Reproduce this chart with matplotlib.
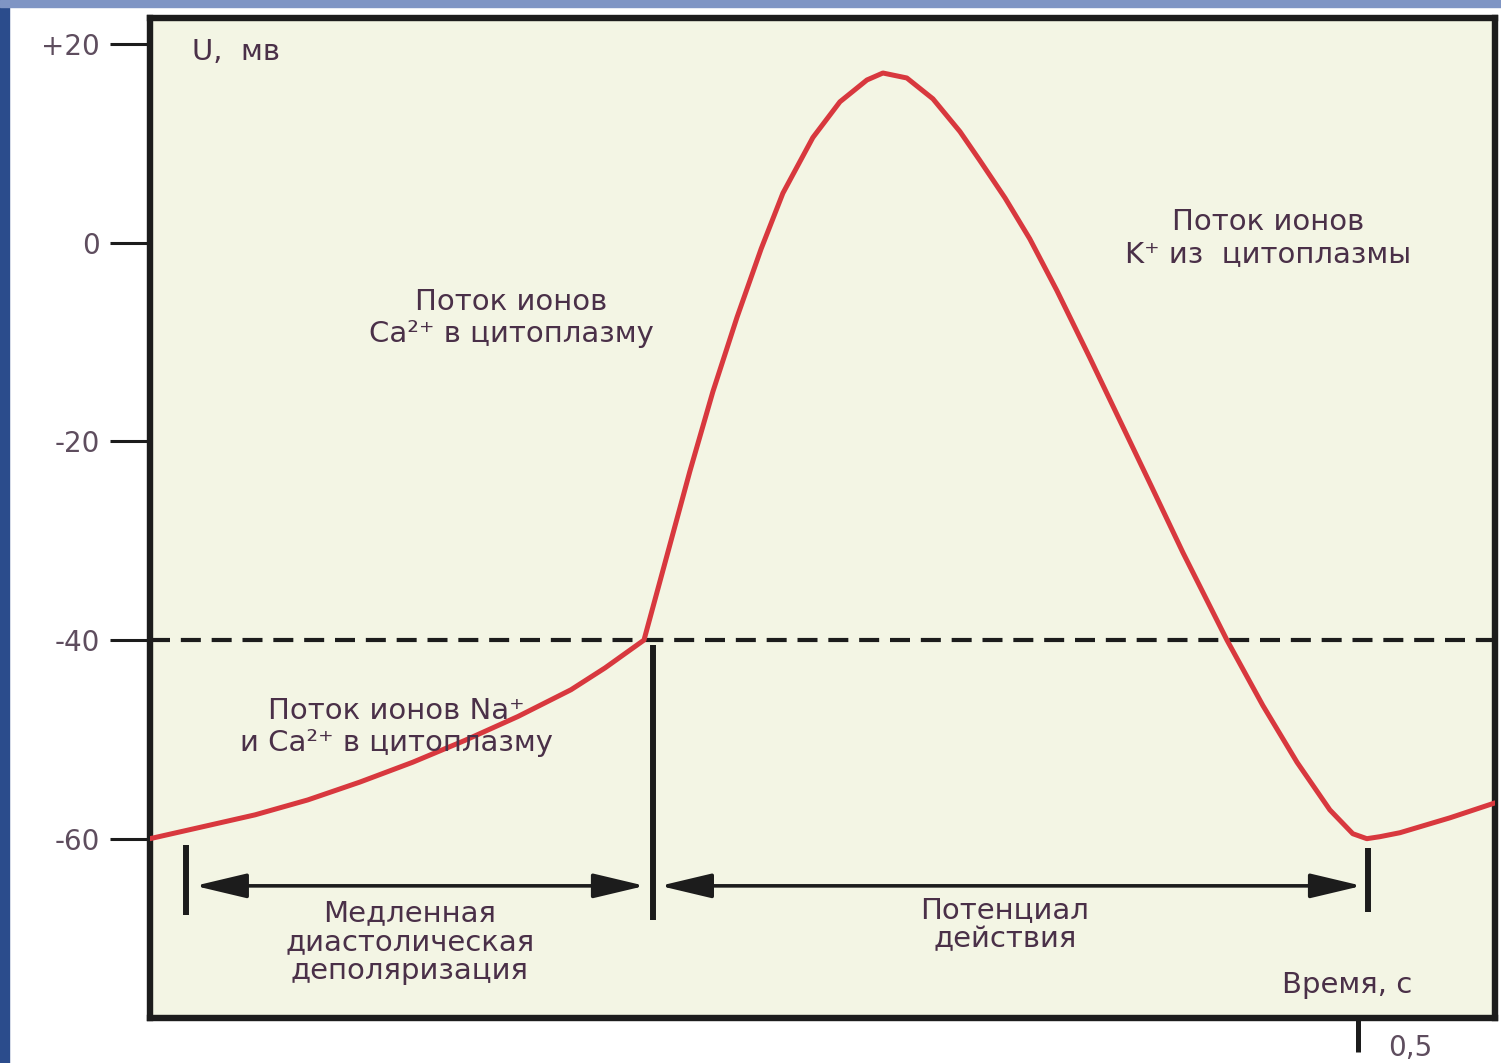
import matplotlib
matplotlib.use("Agg")
import matplotlib.pyplot as plt
from matplotlib.patches import Rectangle
from matplotlib.transforms import blended_transform_factory

# данные кривой (время, с / потенциал, мВ)
time_s = [0.0, 0.0218, 0.0435, 0.0653, 0.0869, 0.1088, 0.1304, 0.1523,
          0.1743, 0.1884, 0.2045,
          0.2140, 0.2235, 0.2330, 0.2430, 0.2530, 0.2620, 0.2744, 0.2856,
          0.2968, 0.3034, 0.3133, 0.3241, 0.3353, 0.3435, 0.3540,
          0.3642, 0.3754, 0.3891, 0.4015, 0.4147, 0.4276, 0.4458, 0.4607,
          0.4748, 0.4884, 0.4979, 0.5037, 0.5091, 0.5174, 0.5381, 0.5567]
voltage_mv = [-60.0, -58.8, -57.6, -56.1, -54.3, -52.3, -50.1, -47.7,
              -45.0, -42.8, -40.0,
              -31.5, -23.0, -15.0, -7.5, -0.6, 5.0, 10.6, 14.2,
              16.4, 17.1, 16.6, 14.5, 11.2, 8.3, 4.5,
              0.4, -4.8, -11.6, -17.9, -24.6, -31.2, -40.0, -46.6,
              -52.3, -57.1, -59.5, -60.0, -59.8, -59.4, -57.9, -56.4]

threshold_mv = -40
y_ticks = [20, 0, -20, -40, -60]
y_tick_labels = ["+20", "0", "-20", "-40", "-60"]
x_tick = 0.5
x_tick_label = "0,5"

# границы фаз: (x, y_низ, y_верх)
phase_marks = [(0.0149, -67.7, -60.6), (0.2082, -68.2, -40.5), (0.5041, -67.4, -60.9)]
phase_arrows = [(0.0186, 0.2049), (0.2111, 0.5017)]
arrow_y = -64.75

TEXT_C = "#4a3048"
TICK_C = "#5e4d5e"
RED = "#d8383e"

plt.rcParams["font.family"] = ["DejaVu Sans"]

fig = plt.figure(figsize=(15.01, 10.63), dpi=100)
fig.patch.set_facecolor("white")
# полоски фона слайда
fig.add_artist(Rectangle((0, 0), 9 / 1501, 1, transform=fig.transFigure,
                         color="#2b4c8c", zorder=0))
fig.add_artist(Rectangle((0, 1 - 7 / 1063), 1, 7 / 1063, transform=fig.transFigure,
                         color="#7f95c4", zorder=0))

ax = fig.add_axes([0.0999, 0.0423, 0.896, 0.9404])
ax.set_facecolor("#f3f5e4")
ax.set_xlim(0, 0.5567)
ax.set_ylim(-78.06, 22.6)

for sp in ax.spines.values():
    sp.set_linewidth(4.6)
    sp.set_color("#1c1c1c")

ax.axhline(threshold_mv, color="#1c1c1c", lw=3, ls=(0, (4.8, 2.6)), zorder=2)
ax.plot(time_s, voltage_mv, color=RED, lw=3.6, zorder=3,
        solid_capstyle="round", solid_joinstyle="round")

for x, y0, y1 in phase_marks:
    ax.plot([x, x], [y0, y1], color="#1c1c1c", lw=4.3, solid_capstyle="butt", zorder=3)
for x0, x1 in phase_arrows:
    ax.annotate("", xy=(x1, arrow_y), xytext=(x0, arrow_y),
                arrowprops=dict(arrowstyle="<|-|>,head_length=1.6,head_width=0.38",
                                mutation_scale=20, color="#1c1c1c", lw=2.6,
                                shrinkA=0, shrinkB=0), zorder=3)

ax.set_yticks(y_ticks)
ax.set_yticklabels(y_tick_labels)
ax.tick_params(axis="y", direction="out", length=29, width=2.2, pad=7,
               labelsize=20, labelcolor=TICK_C, color="#1c1c1c")
ax.set_xticks([x_tick])
ax.set_xticklabels([""])
ax.tick_params(axis="x", direction="out", length=24.5, width=3.6, color="#1c1c1c")
tr = blended_transform_factory(ax.transData, fig.transFigure)
ax.text(x_tick + 0.0125, 1 - 1048 / 1063, x_tick_label, transform=tr,
        ha="left", va="center", fontsize=20, color=TICK_C)


def px(x, y):
    return x / 1501, 1 - y / 1063


txt = dict(color=TEXT_C, fontsize=21, ha="center", va="center",
           linespacing=1.15, transform=fig.transFigure)
fig.text(*px(192, 52), "U,  мв", **{**txt, "ha": "left"})
fig.text(*px(511, 318), "Поток ионов\nCa²⁺ в цитоплазму", **txt)
fig.text(*px(1268, 238), "Поток ионов\nK⁺ из  цитоплазмы", **txt)
fig.text(*px(396, 727), "Поток ионов Na⁺\nи Ca²⁺ в цитоплазму", **txt, zorder=5)
fig.text(*px(410, 942), "Медленная\nдиастолическая\nдеполяризация", **{**txt, "linespacing": 1.05})
fig.text(*px(1005, 925), "Потенциал\nдействия", **{**txt, "linespacing": 1.05})
fig.text(*px(1347, 985), "Время, с", **txt)

fig.savefig("out.png", dpi=100)
